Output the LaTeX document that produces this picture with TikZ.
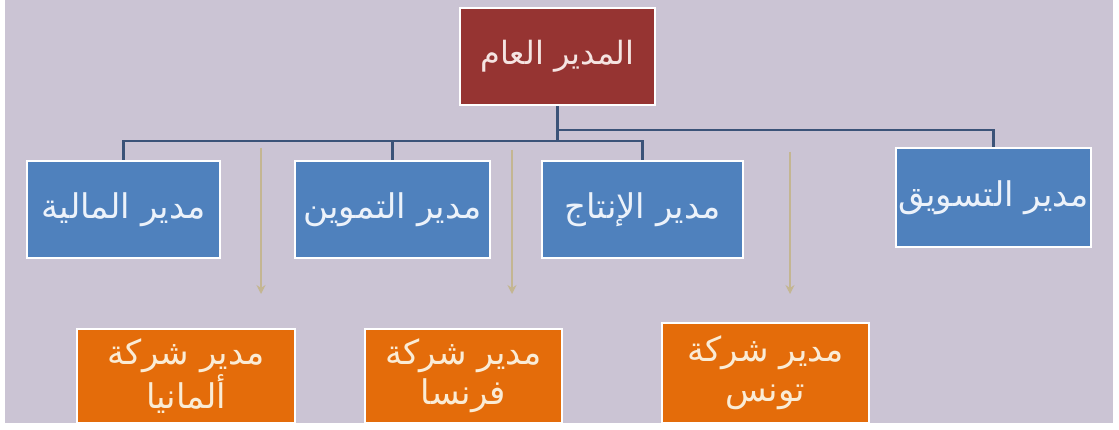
\documentclass[tikz,border=0pt]{standalone}
\usepackage{fontspec}
\newfontfamily\arabicfont[Script=Arabic]{DejaVu Sans}
\TeXXeTstate=1
\usetikzlibrary{arrows.meta}
\definecolor{bgc}{RGB}{203,196,212}
\definecolor{redc}{RGB}{150,52,50}
\definecolor{bluec}{RGB}{79,129,189}
\definecolor{orangec}{RGB}{228,108,10}
\definecolor{linec}{RGB}{59,83,120}
\definecolor{tanc}{RGB}{196,182,146}
\definecolor{txtred}{RGB}{245,228,226}
\definecolor{txtblue}{RGB}{236,242,250}
\definecolor{txtorange}{RGB}{250,236,214}
\tikzset{
  box/.style={draw=white, line width=2.5pt, inner sep=0pt, align=center,
    font=\arabicfont\fontsize{34}{40}\selectfont},
  gmbox/.style={box, fill=redc, text=txtred, minimum width=195pt, minimum height=97pt,
    font=\arabicfont\fontsize{32}{40}\selectfont},
  depbox/.style={box, fill=bluec, text=txtblue, minimum height=97pt},
  cobox/.style={box, fill=orangec, text=txtorange, minimum height=94pt},
  conn/.style={draw=linec, line width=2.8pt},
  tanarrow/.style={draw=tanc, line width=2.5pt, -{Stealth[length=9pt,width=9pt]}}
}
\begin{document}
\begin{tikzpicture}[x=1pt,y=-1pt]
\useasboundingbox (0,0) rectangle (1119,430);
\fill[white] (0,0) rectangle (1119,430);
\fill[bgc] (5,0) rectangle (1113,423);
\node[gmbox] (gm) at (557.5,56.5) {\beginR المدير العام\endR};
\node[depbox, minimum width=193pt] (fin) at (123.5,209.5) {\beginR مدير المالية\endR};
\node[depbox, minimum width=195pt] (sup) at (392.5,209.5) {\beginR مدير التموين\endR};
\node[depbox, minimum width=201pt] (prod) at (642.5,209.5) {\beginR مدير الإنتاج\endR};
\node[depbox, minimum width=195pt, minimum height=99pt] (mk) at (993.5,197.5) {\beginR مدير التسويق\endR};
\coordinate (k) at (557.5,130);
\coordinate (j) at (557.5,141);
\draw[conn] (gm.south) -- (j);
\draw[conn] (k) -| (mk.north);
\draw[conn] (j) -| (fin.north);
\draw[conn] (j) -| (sup.north);
\draw[conn] (j) -| (prod.north);
\coordinate (a1) at (261,148);
\coordinate (a1e) at (261,294);
\coordinate (a2) at (512,150);
\coordinate (a2e) at (512,294);
\coordinate (a3) at (790,152);
\coordinate (a3e) at (790,294);
\draw[tanarrow] (a1) -- (a1e);
\draw[tanarrow] (a2) -- (a2e);
\draw[tanarrow] (a3) -- (a3e);
\node[cobox, minimum width=218pt] (ger) at (186,376) {\beginR مدير شركة\endR\\\beginR ألمانيا\endR};
\node[cobox, minimum width=197pt] (fra) at (463.5,376) {\beginR مدير شركة\endR\\\beginR فرنسا\endR};
\node[cobox, minimum width=207pt, minimum height=100pt] (tun) at (765.5,373) {\beginR مدير شركة\endR\\\beginR تونس\endR};
\fill[white] (0,423) rectangle (1119,430);
\end{tikzpicture}
\end{document}
